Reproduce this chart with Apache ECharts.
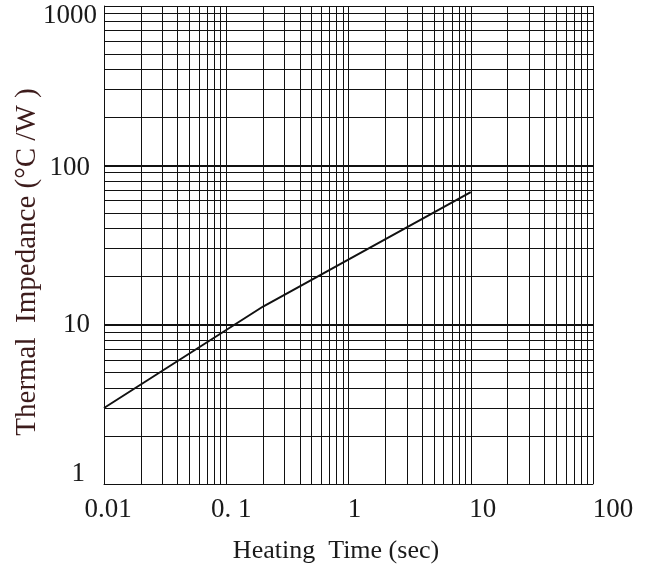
<!DOCTYPE html>
<html>
<head>
<meta charset="utf-8">
<script src="https://cdn.jsdelivr.net/npm/echarts@6/dist/echarts.min.js"></script>
<style>
  html, body { margin: 0; padding: 0; background: #fff; }
  #chart { width: 651px; height: 569px; }
</style>
</head>
<body>
<div id="chart"></div>
<script>
// curve: heating time (sec) vs thermal impedance (°C/W)
const heatingTime = [0.01, 0.2, 10]
const impedance = [3.0, 13, 68]

// tick labels
const xTickLabels = { 0.01: '0.01', 0.1: '0. 1', 1: '1', 10: '10', 100: '100' }
const yTickLabels = { 1: '1', 10: '10', 100: '100', 1000: '1000' }

const xDecades = [0.01, 0.1, 1, 10]
const yDecades = [1, 10, 100]

const chart = echarts.init(document.getElementById('chart'))

// log paper grid lines (1..9 per decade)
const gridLines = []
xDecades.forEach((d) => {
  for (let m = 1; m <= 9; m++) {
    gridLines.push({ xAxis: +(d * m).toPrecision(3), lineStyle: { width: 1 } })
  }
})
gridLines.push({ xAxis: 100, lineStyle: { width: 1 } })
yDecades.forEach((d) => {
  for (let m = 1; m <= 9; m++) {
    // 10 and 100 lines are heavier
    const heavy = m === 1 && d > 1
    gridLines.push({ yAxis: d * m, lineStyle: { width: heavy ? 2 : 1 } })
  }
})
gridLines.push({ yAxis: 1000, lineStyle: { width: 1 } })

const font = 'Liberation Serif'
const ink = '#1a1a1a'

const option = {
  animation: false,
  grid: { left: 104, right: 58, top: 6, bottom: 85, outerBoundsMode: 'none', containLabel: false },
  xAxis: {
    type: 'log',
    logBase: 10,
    min: 0.01,
    max: 100,
    name: 'Heating  Time (sec)',
    nameLocation: 'middle',
    nameGap: 54,
    nameTextStyle: { fontFamily: font, fontSize: 26, color: ink, padding: [0, 25, 0, 0] },
    axisLine: { show: true, lineStyle: { color: '#222', width: 1 } },
    axisTick: { show: false },
    splitLine: { show: false },
    axisLabel: {
      margin: 12,
      fontFamily: font,
      fontSize: 27,
      color: ink,
      formatter: (v) => {
        const key = +v.toPrecision(3)
        const t = xTickLabels[key]
        if (!t) return ''
        const style = { 0.01: 'a', 0.1: 'b', 1: 'c', 10: 'd', 100: 'e' }[key]
        return '{' + style + '|' + t + '}'
      },
      rich: {
        a: { fontFamily: font, fontSize: 27, color: ink, padding: [0, 0, 0, 8] },
        b: { fontFamily: font, fontSize: 27, color: ink, padding: [0, 0, 0, 10] },
        c: { fontFamily: font, fontSize: 27, color: ink, padding: [0, 0, 0, 12] },
        d: { fontFamily: font, fontSize: 27, color: ink, padding: [0, 0, 0, 24] },
        e: { fontFamily: font, fontSize: 27, color: ink, padding: [0, 0, 0, 40] }
      }
    }
  },
  yAxis: {
    type: 'log',
    logBase: 10,
    min: 1,
    max: 1000,
    name: 'Thermal  Impedance (°C /W )',
    nameLocation: 'middle',
    nameRotate: 90,
    nameGap: 62,
    nameMoveOverlap: false,
    nameTextStyle: { fontFamily: font, fontSize: 29, color: '#3d1c1c', padding: [0, 34, 0, 0] },
    axisLine: { show: true, lineStyle: { color: '#222', width: 1 } },
    axisTick: { show: false },
    splitLine: { show: false },
    axisLabel: {
      margin: 7,
      fontFamily: font,
      fontSize: 27,
      color: ink,
      formatter: (v) => {
        const key = Math.round(v)
        const t = yTickLabels[key]
        if (!t) return ''
        const style = { 1: 'a', 10: 'b', 100: 'c', 1000: 'd' }[key]
        return '{' + style + '|' + t + '}'
      },
      rich: {
        a: { fontFamily: font, fontSize: 27, color: ink, padding: [0, 12, 20, 0] },
        b: { fontFamily: font, fontSize: 27, color: ink, padding: [0, 7, 0, 0] },
        c: { fontFamily: font, fontSize: 27, color: ink, padding: [6, 7, 0, 0] },
        d: { fontFamily: font, fontSize: 27, color: ink, padding: [20, 0, 0, 0] }
      }
    }
  },
  series: [
    {
      type: 'line',
      data: heatingTime.map((t, i) => [t, impedance[i]]),
      showSymbol: false,
      lineStyle: { color: '#111', width: 2 },
      z: 5,
      markLine: {
        silent: true,
        symbol: 'none',
        label: { show: false },
        lineStyle: { color: '#111', type: 'solid', width: 1 },
        data: gridLines
      }
    }
  ]
}

chart.setOption(option)
</script>
</body>
</html>
